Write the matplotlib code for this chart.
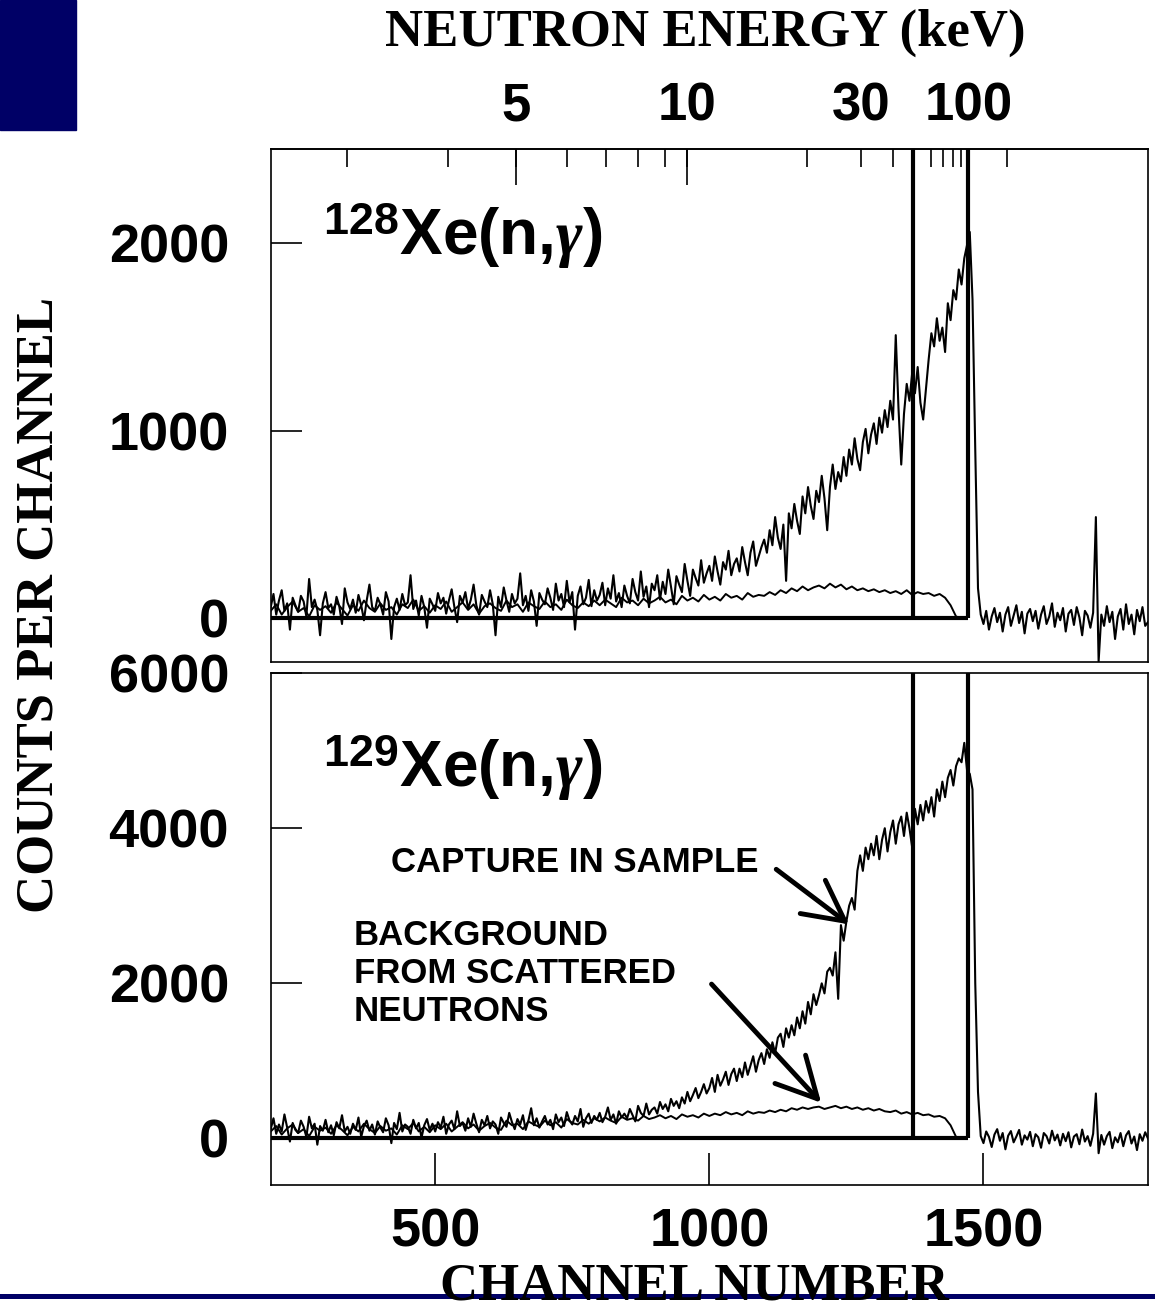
import numpy as np
import matplotlib.pyplot as plt
from matplotlib.patches import Rectangle
from matplotlib.lines import Line2D

plt.rcParams['font.family'] = ['Liberation Sans', 'DejaVu Sans']
plt.rcParams['font.weight'] = 'bold'
plt.rcParams['mathtext.fontset'] = 'custom'
plt.rcParams['mathtext.rm'] = 'Liberation Sans:bold'
plt.rcParams['mathtext.bf'] = 'Liberation Sans:bold'
plt.rcParams['mathtext.it'] = 'Liberation Serif:italic'

# channel grids (spectrum read every 5 channels, background every 10)
chan = np.arange(200, 1801, 5)
bg_chan = np.arange(200, 1461, 10)

# 128Xe(n,g) counts per channel
xe128_counts = [
    60, 130, 20, 95, 150, 40, 80, -60, 110, 70,
    35, 120, 90, 10, 210, 60, 100, 45, -90, 80,
    140, 55, 75, 20, 115, 65, -30, 160, 85, 50,
    100, 30, 125, 70, -10, 95, 180, 60, 40, 110,
    75, 20, 140, 90, -110, 60, 105, 45, 130, 70,
    85, 230, 50, 95, 15, 120, 60, -50, 105, 75,
    40, 135, 80, 110, 25, 95, 155, 60, -20, 120,
    85, 140, 50, 100, 180, 70, 20, 125, 90, 60,
    150, 75, -90, 115, 60, 165, 95, 35, 130, 80,
    105, 240, 70, 120, 40, 150, 90, -40, 135, 100,
    75, 160, 110, 45, 185, 95, 130, 60, 200, 85,
    140, -60, 120, 170, 75, 110, 205, 65, 150, 95,
    125, 190, 70, 160, 105, 230, 90, 135, 60, 175,
    120, 80, 210, 140, 95, 250, 115, 170, 60, 185,
    150, 230, 100, 195, 130, 260, 170, 75, 225, 180,
    140, 290, 200, 120, 260, 215, 175, 310, 190, 240,
    280, 200, 330, 250, 180, 300, 260, 360, 230, 290,
    320, 250, 380, 300, 230, 350, 410, 280, 330, 380,
    420, 350, 470, 390, 540, 430, 370, 500, 200, 560,
    480, 610, 520, 450, 650, 560, 700, 600, 530, 680,
    620, 760, 640, 470, 700, 820, 690, 780, 730, 860,
    760, 900, 820, 960, 850, 790, 940, 1010, 880, 980,
    1040, 930, 1070, 990, 1110, 1020, 1160, 1060, 1510, 1120,
    820, 1090, 1250, 1160, 1310, 1200, 1340, 1150, 1060, 1220,
    1380, 1520, 1450, 1600, 1480, 1550, 1420, 1680, 1590, 1750,
    1700, 1860, 1780, 1920, 1990, 2060, 1700, 900, 160, 20,
    -30, 40, -60, 10, 55, -20, 30, -70, 20, 60,
    -40, 15, 70, -25, 35, -80, 25, 50, -15, 40,
    -55, 20, 65, -30, 10, 80, -45, 30, -10, 55,
    -70, 25, 45, -35, 60, 5, -90, 40, 15, -50,
    30, 540, -230, 20, -40, 65, -20, 35, -110, 10,
    50, -60, 75, -30, 20, -85, 45, -15, 60, -40,
    -20,
]

# 128Xe background from scattered neutrons
xe128_bg = [
    40, 75, 20, 60, 90, 35, 55, 10, 70, 45,
    65, 30, 85, 50, 15, 70, 40, 95, 55, 35,
    80, 45, 60, 20, 75, 55, 100, 40, 65, 30,
    70, 50, 90, 35, 60, 85, 45, 75, 25, 65,
    80, 55, 40, 95, 60, 75, 35, 85, 65, 50,
    90, 60, 75, 45, 100, 70, 55, 85, 65, 95,
    70, 100, 80, 60, 110, 85, 95, 70, 105, 80,
    95, 115, 85, 100, 75, 120, 95, 110, 90, 125,
    100, 115, 95, 130, 110, 120, 100, 135, 115, 125,
    120, 140, 125, 150, 135, 160, 145, 170, 150, 165,
    175, 160, 185, 165, 180, 155, 170, 150, 160, 145,
    155, 140, 150, 135, 145, 130, 150, 125, 140, 130,
    135, 120, 130, 110, 70, 10, 0,
]

# 129Xe(n,g) counts per channel
xe129_counts = [
    120, 260, 60, 180, 90, 310, 140, -40, 200, 110,
    70, 230, 150, 20, 280, 130, 190, -80, 160, 100,
    240, 80, 170, 40, 210, 130, 300, 90, 150, 60,
    190, 110, 270, 20, 160, 230, 100, 180, 50, 220,
    140, 80, 260, 170, -60, 200, 120, 330, 90, 180,
    150, 60, 240, 130, 200, 10, 170, 250, 110, 190,
    90, 210, 140, 280, 60, 180, 230, 120, 350, 160,
    200, 100, 260, 150, 320, 190, 80, 240, 170, 290,
    130, 220, 180, 60, 270, 200, 150, 330, 210, 120,
    250, 180, 300, 110, 230, 390, 170, 260, 140, 220,
    290, 180, 240, 120, 310, 210, 270, 160, 340, 230,
    180, 290, 220, 380, 150, 260, 320, 200, 290, 240,
    330, 210, 280, 400, 240, 310, 190, 350, 270, 320,
    260, 380, 300, 220, 420, 330, 290, 450, 310, 370,
    400, 320, 470, 380, 440, 350, 510, 420, 480, 390,
    530, 450, 600, 480, 560, 650, 520, 600, 700, 580,
    650, 780, 600, 820, 680, 760, 860, 690, 830, 900,
    740, 900, 790, 980, 820, 940, 1060, 860, 1010, 1100,
    960, 1150, 1040, 1240, 1100, 1300, 1350, 1180, 1420, 1300,
    1460, 1330, 1560, 1420, 1640, 1480, 1760, 1600, 1860, 1720,
    1850, 2000, 1870, 2150, 2200, 2100, 2400, 1800, 2750, 2550,
    2800, 3000, 3100, 2950, 3450, 3650, 3450, 3750, 3600, 3800,
    3650, 3900, 3600, 3850, 4000, 3700, 3950, 4100, 3800, 4050,
    4150, 3900, 4200, 4000, 3750, 4250, 4050, 4300, 4100, 4350,
    4200, 4400, 4150, 4500, 4350, 4600, 4400, 4650, 4750, 4550,
    4800, 4900, 4850, 5100, 4750, 4700, 4500, 2000, 600, 30,
    -60, 90, 20, -110, 50, 120, -30, 70, -140, 35,
    95, -50, 25, 110, -80, 40, -15, 85, -100, 55,
    15, -120, 70, 30, -65, 100, -25, 50, -90, 60,
    -35, 80, -115, 25, 55, -75, 115, -40, 30, -95,
    60, 580, -190, 45, -80, 30, 85, -125, 15, -50,
    70, -100, 40, 95, -65, 25, -150, 55, -30, 80,
    0,
]

# 129Xe background from scattered neutrons
xe129_bg = [
    90, 160, 50, 130, 180, 70, 120, 30, 150, 100,
    140, 60, 170, 110, 40, 150, 90, 190, 120, 70,
    160, 100, 130, 50, 170, 120, 200, 90, 150, 80,
    170, 120, 190, 90, 150, 210, 130, 180, 100, 160,
    200, 140, 110, 230, 170, 190, 120, 220, 180, 150,
    230, 170, 210, 140, 250, 200, 180, 240, 190, 260,
    220, 270, 230, 200, 280, 240, 260, 230, 290, 250,
    270, 300, 260, 290, 250, 310, 280, 300, 270, 320,
    290, 320, 300, 340, 310, 330, 300, 350, 320, 340,
    330, 360, 340, 370, 350, 390, 370, 400, 380, 400,
    410, 380, 400, 420, 390, 410, 380, 400, 370, 390,
    360, 380, 350, 340, 360, 320, 340, 310, 330, 300,
    310, 280, 290, 260, 170, 20, 0,
]

# time-of-flight calibration: channel = C0 - K / sqrt(E[keV])
C0, K = 1710.0, 2375.0
energy_labels = [5, 10, 30, 100]
energy_long = [5, 10]
energy_minor = [3, 4, 6, 7, 8, 9, 20, 40, 50, 60, 70, 80, 90, 200]

gate_channels = [1372, 1472]
baseline_end = 1472


def e2ch(e):
    return C0 - K / np.sqrt(np.asarray(e, dtype=float))


fig = plt.figure(figsize=(11.55, 13.12), dpi=100)
ax1 = fig.add_axes([0.2344, 0.4958, 0.7595, 0.3903])
ax2 = fig.add_axes([0.2344, 0.0968, 0.7595, 0.3902])

for ax, counts, bg, ylim in [(ax1, xe128_counts, xe128_bg, (-230, 2500)),
                             (ax2, xe129_counts, xe129_bg, (-600, 6000))]:
    ax.plot(chan, counts, color='black', lw=1.5)
    ax.plot(bg_chan, bg, color='black', lw=1.4)
    ax.hlines(0, 200, baseline_end, color='black', lw=3)
    ax.vlines(gate_channels, 0, ylim[1], color='black', lw=3)
    ax.set_xlim(200, 1800)
    ax.set_ylim(*ylim)
    for s in ax.spines.values():
        s.set_linewidth(1.2)
    ax.tick_params(axis='y', direction='in', length=22, width=1.2, pad=30,
                   labelsize=39)

ax1.set_yticks([0, 1000, 2000])
ax2.set_yticks([0, 2000, 4000, 6000])

# top panel: neutron energy scale along the top edge
ax1.xaxis.tick_top()
ax1.set_xticks(e2ch(energy_labels))
ax1.set_xticklabels([str(e) for e in energy_labels])
ax1.set_xticks(e2ch(energy_minor), minor=True)
ax1.tick_params(axis='x', which='major', direction='in', length=13, width=1.2,
                pad=13, labelsize=38)
ax1.tick_params(axis='x', which='minor', direction='in', length=13, width=1.2)
sec = ax1.secondary_xaxis('top')
sec.set_xticks(e2ch(energy_long))
sec.set_xticklabels([])
sec.tick_params(direction='in', length=26, width=1.2)
sec.spines['top'].set_linewidth(1.2)

ax2.set_xticks([500, 1000, 1500])
ax2.tick_params(axis='x', direction='in', length=23, width=1.2, pad=16,
                labelsize=39)

ax1.text(0.06, 0.794, r'$^{128}$Xe(n,$\gamma$)', transform=ax1.transAxes,
         fontsize=46, va='baseline')
ax2.text(0.06, 0.777, r'$^{129}$Xe(n,$\gamma$)', transform=ax2.transAxes,
         fontsize=46, va='baseline')

ax2.text(0.137, 0.611, 'CAPTURE IN SAMPLE', transform=ax2.transAxes,
         fontsize=25, va='baseline')
for txt, yy in [('BACKGROUND', 0.469), ('FROM SCATTERED', 0.3945),
                ('NEUTRONS', 0.320)]:
    ax2.text(0.0948, yy, txt, transform=ax2.transAxes, fontsize=25,
             va='baseline')

arrow = dict(arrowstyle='->,head_length=0.29,head_width=0.15', lw=3.5,
             color='black', mutation_scale=100, shrinkA=0, shrinkB=0)
ax2.annotate('', xy=(1255, 2760), xytext=(1122, 3470), arrowprops=arrow)
ax2.annotate('', xy=(1204, 460), xytext=(1004, 1990), arrowprops=arrow)

serif = ['Liberation Serif', 'DejaVu Serif']
fig.text(0.611, 0.975, 'NEUTRON ENERGY (keV)', family=serif, fontsize=38,
         ha='center', va='center')
fig.text(0.601, 0.0095, 'CHANNEL NUMBER', family=serif, fontsize=38,
         ha='center', va='baseline', zorder=5)
fig.text(0.0346, 0.5389, 'COUNTS PER CHANNEL', family=serif, fontsize=38,
         ha='center', va='center', rotation=90)

fig.add_artist(Rectangle((0, 0.9009), 0.0658, 0.0991, transform=fig.transFigure,
                         color='#000066', zorder=0))
fig.add_artist(Line2D([0, 1], [0.0122, 0.0122], transform=fig.transFigure,
                      color='#000066', lw=3.6, zorder=0))

fig.savefig('out.png', dpi=100)
